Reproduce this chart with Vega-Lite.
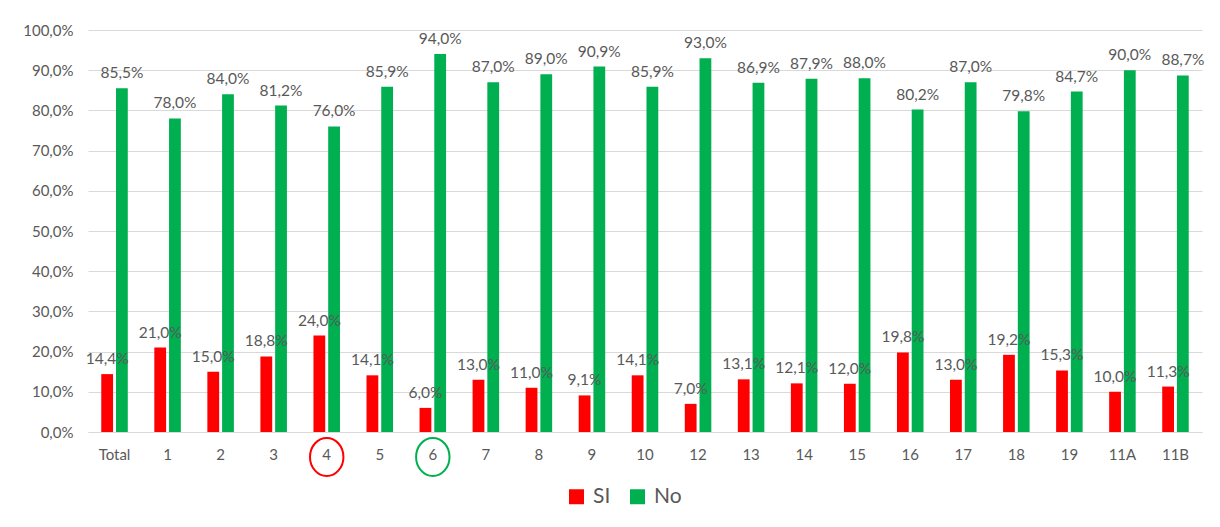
{
  "$schema": "https://vega.github.io/schema/vega-lite/v6.json",
  "width": 1114,
  "height": 402,
  "autosize": {"type": "none"},
  "padding": {"left": 88, "top": 30, "right": 18, "bottom": 95},
  "background": "white",
  "config": {
    "locale": {"number": {"decimal": ",", "thousands": ".", "grouping": [3], "currency": ["", " €"]}},
    "view": {"stroke": null},
    "font": "Lato",
    "axis": {"labelFont": "Lato", "labelColor": "#595959", "labelFontSize": 15, "title": null},
    "axisY": {"format": ".1%", "values": [0,0.1,0.2,0.3,0.4,0.5,0.6,0.7,0.8,0.9,1], "labelOverlap": false, "ticks": false, "domain": false, "gridColor": "#d9d9d9", "labelPadding": 15}
  },
  "data": {
    "values": [
      {"cat": "Total", "serie": "SI", "value": 0.144}, {"cat": "Total", "serie": "No", "value": 0.855},
      {"cat": "1", "serie": "SI", "value": 0.210}, {"cat": "1", "serie": "No", "value": 0.780},
      {"cat": "2", "serie": "SI", "value": 0.150}, {"cat": "2", "serie": "No", "value": 0.840},
      {"cat": "3", "serie": "SI", "value": 0.188}, {"cat": "3", "serie": "No", "value": 0.812},
      {"cat": "4", "serie": "SI", "value": 0.240}, {"cat": "4", "serie": "No", "value": 0.760},
      {"cat": "5", "serie": "SI", "value": 0.141}, {"cat": "5", "serie": "No", "value": 0.859},
      {"cat": "6", "serie": "SI", "value": 0.060}, {"cat": "6", "serie": "No", "value": 0.940},
      {"cat": "7", "serie": "SI", "value": 0.130}, {"cat": "7", "serie": "No", "value": 0.870},
      {"cat": "8", "serie": "SI", "value": 0.110}, {"cat": "8", "serie": "No", "value": 0.890},
      {"cat": "9", "serie": "SI", "value": 0.091}, {"cat": "9", "serie": "No", "value": 0.909},
      {"cat": "10", "serie": "SI", "value": 0.141}, {"cat": "10", "serie": "No", "value": 0.859},
      {"cat": "12", "serie": "SI", "value": 0.070}, {"cat": "12", "serie": "No", "value": 0.930},
      {"cat": "13", "serie": "SI", "value": 0.131}, {"cat": "13", "serie": "No", "value": 0.869},
      {"cat": "14", "serie": "SI", "value": 0.121}, {"cat": "14", "serie": "No", "value": 0.879},
      {"cat": "15", "serie": "SI", "value": 0.120}, {"cat": "15", "serie": "No", "value": 0.880},
      {"cat": "16", "serie": "SI", "value": 0.198}, {"cat": "16", "serie": "No", "value": 0.802},
      {"cat": "17", "serie": "SI", "value": 0.130}, {"cat": "17", "serie": "No", "value": 0.870},
      {"cat": "18", "serie": "SI", "value": 0.192}, {"cat": "18", "serie": "No", "value": 0.798},
      {"cat": "19", "serie": "SI", "value": 0.153}, {"cat": "19", "serie": "No", "value": 0.847},
      {"cat": "11A", "serie": "SI", "value": 0.100}, {"cat": "11A", "serie": "No", "value": 0.900},
      {"cat": "11B", "serie": "SI", "value": 0.113}, {"cat": "11B", "serie": "No", "value": 0.887}
    ]
  },
  "encoding": {
    "x": {
      "field": "cat", "type": "nominal", "sort": null,
      "scale": {"domain": ["Total","1","2","3","4","5","6","7","8","9","10","12","13","14","15","16","17","18","19","11A","11B"], "paddingInner": 0.5, "paddingOuter": 0.25},
      "axis": {"labelAngle": 0, "ticks": false, "domainColor": "#d9d9d9", "domainWidth": 1, "labelPadding": 15, "grid": false}
    },
    "y": {"field": "value", "type": "quantitative", "scale": {"domain": [0, 1]}}
  },
  "layer": [
    {
      "mark": {"type": "bar"},
      "encoding": {
        "xOffset": {"field": "serie", "type": "nominal", "sort": ["SI", "No"], "scale": {"paddingInner": 0.2}},
        "color": {"field": "serie", "type": "nominal", "sort": ["SI", "No"],
                  "scale": {"domain": ["SI", "No"], "range": ["#FF0000", "#00B050"]},
                  "legend": {"title": null, "orient": "none", "direction": "horizontal", "legendX": 478, "legendY": 456,
                             "symbolType": "square", "symbolSize": 225, "symbolStrokeWidth": 0, "labelFontSize": 21, "labelFont": "Lato", "labelColor": "#595959", "labelOffset": 6, "columnPadding": 16}}
      }
    },
    {
      "mark": {"type": "text", "baseline": "bottom", "dy": -7, "fontSize": 15.5, "color": "#595959"},
      "encoding": {
        "xOffset": {"field": "serie", "type": "nominal", "sort": ["SI", "No"], "scale": {"paddingInner": 0.2}},
        "text": {"field": "value", "type": "quantitative", "format": ".1%"}
      }
    },
    {
      "transform": [{"filter": "datum.cat == '4' && datum.serie == 'SI'"}],
      "mark": {"type": "point", "shape": "M -0.88,0 A 0.88,1 0 1,1 0.88,0 A 0.88,1 0 1,1 -0.88,0 Z", "filled": false, "stroke": "#FF0000", "strokeWidth": 2, "size": 1444, "opacity": 1},
      "encoding": {"y": {"datum": -0.062, "type": "quantitative", "scale": {"domain": [0, 1]}}}
    },
    {
      "transform": [{"filter": "datum.cat == '6' && datum.serie == 'SI'"}],
      "mark": {"type": "point", "shape": "M -0.88,0 A 0.88,1 0 1,1 0.88,0 A 0.88,1 0 1,1 -0.88,0 Z", "filled": false, "stroke": "#00B050", "strokeWidth": 2, "size": 1444, "opacity": 1},
      "encoding": {"y": {"datum": -0.062, "type": "quantitative", "scale": {"domain": [0, 1]}}}
    }
  ]
}
